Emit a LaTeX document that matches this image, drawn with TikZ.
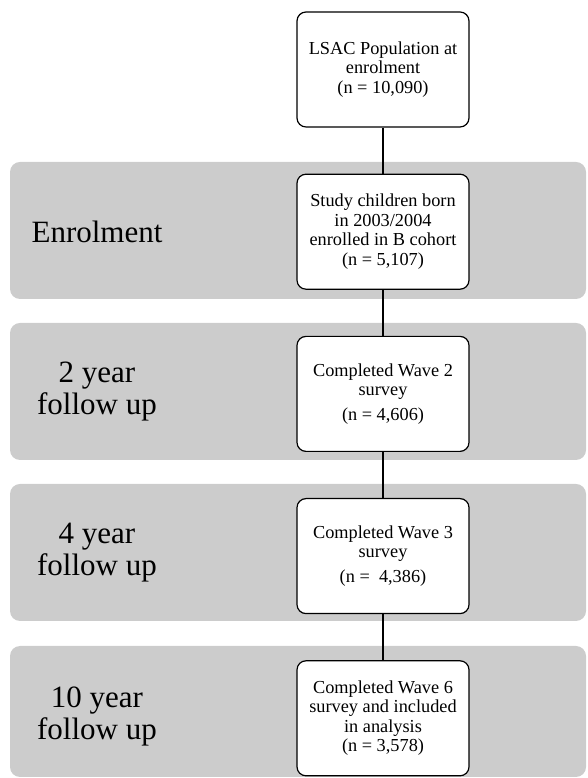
\documentclass[tikz,border=0pt]{standalone}
\usepackage{fontspec}
\setmainfont{Liberation Serif}
\usepackage{tikz}
\usetikzlibrary{positioning}

\begin{document}
\begin{tikzpicture}[x=1pt,y=1pt]
        \tikzset{Band/.style={fill=gray!40,rounded corners=10pt,minimum width=576pt,minimum height=137pt},
                 Phase/.style={align=center,font=\fontsize{31}{32}\selectfont},
                 Stage/.style={draw,line width=1.2pt,fill=white,rounded corners=9pt,align=center,
                               minimum width=172pt,minimum height=115pt,font=\fontsize{18.3}{19.5}\selectfont},
                 Link/.style={line width=1.3pt}}
        \useasboundingbox (0,0) rectangle (587,778);
        % grey bands behind the boxes
        \node[Band] (enrol) at (298,547.5) {};
        \node[Band] (two) at (298,386.5) {};
        \node[Band] (four) at (298,225.5) {};
        \node[Band,minimum height=131pt] (ten) at (298,66.5) {};
        \node[Phase] (L1) at (97,546) {Enrolment};
        \node[Phase] (L2) at (97,386) {2 year\\follow up};
        \node[Phase] (L3) at (97,225) {4 year\\follow up};
        \node[Phase] (L4) at (97,62) {10 year\\follow up};
        % flow
        \node[Stage] (S1) at (383,708.5) {LSAC Population at\\enrolment\\(n = 10,090)};
        \node[Stage,below=46pt of S1] (S2) {Study children born\\in 2003/2004\\enrolled in B cohort\\(n = 5,107)};
        \node[Stage,below=46pt of S2] (S3) {Completed Wave 2\\survey\\[5pt](n = 4,606)};
        \node[Stage,below=46pt of S3] (S4) {Completed Wave 3\\survey\\[5pt](n =\ \ 4,386)};
        \node[Stage,below=46pt of S4] (S5) {Completed Wave 6\\survey and included\\in analysis\\(n = 3,578)};
        \draw[Link] (S1) -- (S2);
        \draw[Link] (S2) -- (S3);
        \draw[Link] (S3) -- (S4);
        \draw[Link] (S4) -- (S5);
    \end{tikzpicture}
\end{document}
